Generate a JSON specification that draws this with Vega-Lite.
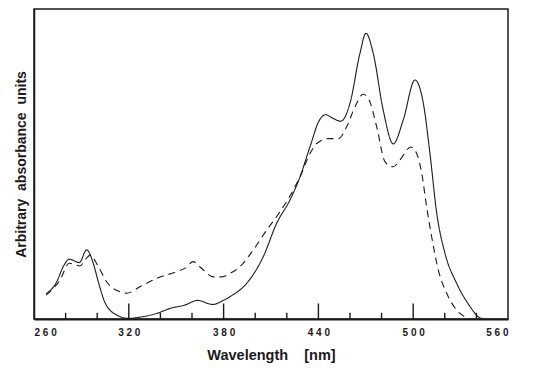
{
  "$schema": "https://vega.github.io/schema/vega-lite/v6.json",
  "width": 474,
  "height": 310,
  "autosize": {"type": "none"},
  "padding": {"left": 34, "top": 9, "right": 46, "bottom": 56},
  "background": "white",
  "config": {"view": {"stroke": "#1a1a1a", "strokeWidth": 1.5}, "font": "Liberation Sans"},
  "datasets": {
    "spectra": [
      {"wavelength": 267.6, "absorbance": 8.1, "spectrum": "solid"},
      {"wavelength": 274.4, "absorbance": 12.0, "spectrum": "solid"},
      {"wavelength": 278.5, "absorbance": 16.9, "spectrum": "solid"},
      {"wavelength": 282.3, "absorbance": 19.3, "spectrum": "solid"},
      {"wavelength": 288.7, "absorbance": 18.2, "spectrum": "solid"},
      {"wavelength": 293.3, "absorbance": 22.3, "spectrum": "solid"},
      {"wavelength": 297.5, "absorbance": 18.0, "spectrum": "solid"},
      {"wavelength": 300.7, "absorbance": 12.0, "spectrum": "solid"},
      {"wavelength": 305.0, "absorbance": 5.2, "spectrum": "solid"},
      {"wavelength": 312.3, "absorbance": 1.3, "spectrum": "solid"},
      {"wavelength": 319.7, "absorbance": 0.2, "spectrum": "solid"},
      {"wavelength": 327.0, "absorbance": 0.6, "spectrum": "solid"},
      {"wavelength": 337.7, "absorbance": 1.8, "spectrum": "solid"},
      {"wavelength": 346.0, "absorbance": 3.4, "spectrum": "solid"},
      {"wavelength": 355.5, "absorbance": 4.5, "spectrum": "solid"},
      {"wavelength": 363.5, "absorbance": 6.0, "spectrum": "solid"},
      {"wavelength": 373.0, "absorbance": 4.7, "spectrum": "solid"},
      {"wavelength": 379.8, "absorbance": 6.0, "spectrum": "solid"},
      {"wavelength": 384.0, "absorbance": 7.2, "spectrum": "solid"},
      {"wavelength": 394.6, "absorbance": 11.5, "spectrum": "solid"},
      {"wavelength": 405.1, "absorbance": 20.1, "spectrum": "solid"},
      {"wavelength": 413.6, "absorbance": 30.9, "spectrum": "solid"},
      {"wavelength": 422.0, "absorbance": 38.4, "spectrum": "solid"},
      {"wavelength": 428.4, "absorbance": 45.9, "spectrum": "solid"},
      {"wavelength": 434.7, "absorbance": 55.6, "spectrum": "solid"},
      {"wavelength": 440.5, "absorbance": 64.0, "spectrum": "solid"},
      {"wavelength": 444.5, "absorbance": 65.9, "spectrum": "solid"},
      {"wavelength": 449.0, "absorbance": 64.8, "spectrum": "solid"},
      {"wavelength": 454.2, "absorbance": 63.8, "spectrum": "solid"},
      {"wavelength": 460.0, "absorbance": 69.6, "spectrum": "solid"},
      {"wavelength": 466.3, "absorbance": 85.7, "spectrum": "solid"},
      {"wavelength": 470.1, "absorbance": 92.2, "spectrum": "solid"},
      {"wavelength": 474.7, "absorbance": 85.7, "spectrum": "solid"},
      {"wavelength": 481.0, "absorbance": 67.4, "spectrum": "solid"},
      {"wavelength": 487.4, "absorbance": 56.5, "spectrum": "solid"},
      {"wavelength": 493.7, "absorbance": 64.2, "spectrum": "solid"},
      {"wavelength": 501.1, "absorbance": 77.1, "spectrum": "solid"},
      {"wavelength": 506.4, "absorbance": 69.6, "spectrum": "solid"},
      {"wavelength": 510.6, "absorbance": 53.4, "spectrum": "solid"},
      {"wavelength": 514.9, "absorbance": 34.1, "spectrum": "solid"},
      {"wavelength": 520.1, "absorbance": 21.2, "spectrum": "solid"},
      {"wavelength": 527.5, "absorbance": 11.5, "spectrum": "solid"},
      {"wavelength": 536.0, "absorbance": 4.0, "spectrum": "solid"},
      {"wavelength": 541.2, "absorbance": 0.7, "spectrum": "solid"},
      {"wavelength": 544.0, "absorbance": 0.0, "spectrum": "solid"},
      {"wavelength": 267.6, "absorbance": 7.7, "spectrum": "dashed"},
      {"wavelength": 276.5, "absorbance": 12.6, "spectrum": "dashed"},
      {"wavelength": 282.3, "absorbance": 18.0, "spectrum": "dashed"},
      {"wavelength": 285.5, "absorbance": 17.6, "spectrum": "dashed"},
      {"wavelength": 289.1, "absorbance": 17.1, "spectrum": "dashed"},
      {"wavelength": 292.5, "absorbance": 19.2, "spectrum": "dashed"},
      {"wavelength": 295.6, "absorbance": 20.6, "spectrum": "dashed"},
      {"wavelength": 300.7, "absorbance": 16.9, "spectrum": "dashed"},
      {"wavelength": 306.0, "absorbance": 12.0, "spectrum": "dashed"},
      {"wavelength": 314.4, "absorbance": 8.8, "spectrum": "dashed"},
      {"wavelength": 318.7, "absorbance": 8.3, "spectrum": "dashed"},
      {"wavelength": 327.0, "absorbance": 10.4, "spectrum": "dashed"},
      {"wavelength": 337.7, "absorbance": 13.1, "spectrum": "dashed"},
      {"wavelength": 350.3, "absorbance": 15.3, "spectrum": "dashed"},
      {"wavelength": 356.0, "absorbance": 16.5, "spectrum": "dashed"},
      {"wavelength": 360.8, "absorbance": 18.5, "spectrum": "dashed"},
      {"wavelength": 364.0, "absorbance": 17.3, "spectrum": "dashed"},
      {"wavelength": 367.2, "absorbance": 15.8, "spectrum": "dashed"},
      {"wavelength": 373.5, "absorbance": 13.6, "spectrum": "dashed"},
      {"wavelength": 378.8, "absorbance": 13.6, "spectrum": "dashed"},
      {"wavelength": 384.0, "absorbance": 14.7, "spectrum": "dashed"},
      {"wavelength": 390.4, "absorbance": 16.9, "spectrum": "dashed"},
      {"wavelength": 398.8, "absorbance": 22.3, "spectrum": "dashed"},
      {"wavelength": 407.3, "absorbance": 28.7, "spectrum": "dashed"},
      {"wavelength": 415.7, "absorbance": 34.6, "spectrum": "dashed"},
      {"wavelength": 424.1, "absorbance": 41.6, "spectrum": "dashed"},
      {"wavelength": 428.4, "absorbance": 45.9, "spectrum": "dashed"},
      {"wavelength": 434.7, "absorbance": 53.4, "spectrum": "dashed"},
      {"wavelength": 438.9, "absorbance": 56.6, "spectrum": "dashed"},
      {"wavelength": 446.3, "absorbance": 58.2, "spectrum": "dashed"},
      {"wavelength": 452.6, "absorbance": 58.2, "spectrum": "dashed"},
      {"wavelength": 457.9, "absorbance": 62.0, "spectrum": "dashed"},
      {"wavelength": 463.2, "absorbance": 68.5, "spectrum": "dashed"},
      {"wavelength": 468.3, "absorbance": 72.5, "spectrum": "dashed"},
      {"wavelength": 471.6, "absorbance": 71.2, "spectrum": "dashed"},
      {"wavelength": 476.9, "absorbance": 62.0, "spectrum": "dashed"},
      {"wavelength": 482.2, "absorbance": 50.7, "spectrum": "dashed"},
      {"wavelength": 487.4, "absorbance": 49.1, "spectrum": "dashed"},
      {"wavelength": 491.6, "absorbance": 51.3, "spectrum": "dashed"},
      {"wavelength": 498.5, "absorbance": 55.5, "spectrum": "dashed"},
      {"wavelength": 502.2, "absorbance": 53.4, "spectrum": "dashed"},
      {"wavelength": 505.4, "absorbance": 47.0, "spectrum": "dashed"},
      {"wavelength": 508.5, "absorbance": 36.2, "spectrum": "dashed"},
      {"wavelength": 511.7, "absorbance": 26.5, "spectrum": "dashed"},
      {"wavelength": 515.9, "absorbance": 15.8, "spectrum": "dashed"},
      {"wavelength": 521.2, "absorbance": 8.3, "spectrum": "dashed"},
      {"wavelength": 527.5, "absorbance": 2.9, "spectrum": "dashed"},
      {"wavelength": 532.8, "absorbance": 0.7, "spectrum": "dashed"},
      {"wavelength": 536.0, "absorbance": 0.0, "spectrum": "dashed"}
    ],
    "ticks": [
      {"wavelength": 280, "kind": "minor"},
      {"wavelength": 300, "kind": "minor"},
      {"wavelength": 320, "kind": "major"},
      {"wavelength": 340, "kind": "minor"},
      {"wavelength": 360, "kind": "minor"},
      {"wavelength": 380, "kind": "major"},
      {"wavelength": 400, "kind": "minor"},
      {"wavelength": 420, "kind": "minor"},
      {"wavelength": 440, "kind": "major"},
      {"wavelength": 460, "kind": "minor"},
      {"wavelength": 480, "kind": "minor"},
      {"wavelength": 500, "kind": "major"},
      {"wavelength": 520, "kind": "minor"},
      {"wavelength": 540, "kind": "minor"}
    ]
  },
  "encoding": {
    "x": {
      "field": "wavelength", "type": "quantitative",
      "scale": {"domain": [260, 560], "nice": false, "zero": false},
      "axis": {
        "title": "Wavelength\u00a0\u00a0\u00a0 [nm]",
        "values": [260, 320, 380, 440, 500, 560],
        "labelExpr": "join(split(format(datum.value, 'd'), ''), ' ')",
        "labelFont": "Liberation Sans", "labelFontWeight": "bold", "labelFontSize": 10, "labelColor": "#1a1a1a",
        "labelFlush": true, "labelPadding": 8, "labelBaseline": "top",
        "ticks": false,
        "domain": true, "domainColor": "#1a1a1a", "domainWidth": 2, "grid": false,
        "titleFont": "Liberation Sans", "titleFontSize": 14.5, "titleFontWeight": "bold", "titleColor": "#1a1a1a",
        "titlePadding": 11
      }
    }
  },
  "layer": [
    {
      "data": {"name": "spectra"},
      "mark": {"type": "line", "interpolate": "monotone", "strokeWidth": 1.1, "color": "#1a1a1a"},
      "encoding": {
        "y": {
          "field": "absorbance", "type": "quantitative",
          "scale": {"domain": [0, 100], "nice": false},
          "axis": {
            "title": "Arbitrary\u00a0\u00a0absorbance\u00a0\u00a0units",
            "ticks": false, "labels": false, "domain": true, "domainWidth": 1.5, "domainColor": "#1a1a1a", "grid": false,
            "titleFont": "Liberation Sans", "titleFontSize": 14, "titleFontWeight": "bold", "titleColor": "#1a1a1a",
            "titlePadding": 6
          }
        },
        "strokeDash": {
          "field": "spectrum", "type": "nominal",
          "scale": {"domain": ["solid", "dashed"], "range": [[1, 0], [7, 5]]},
          "legend": null
        }
      }
    },
    {
      "data": {"name": "ticks"},
      "transform": [{"filter": "datum.kind == 'minor'"}],
      "mark": {"type": "rule", "strokeWidth": 1.4, "color": "#1a1a1a"},
      "encoding": {
        "y": {"datum": 0},
        "y2": {"datum": 2}
      }
    },
    {
      "data": {"name": "ticks"},
      "transform": [{"filter": "datum.kind == 'major'"}],
      "mark": {"type": "rule", "strokeWidth": 1.4, "color": "#1a1a1a"},
      "encoding": {
        "y": {"datum": 0},
        "y2": {"datum": 5}
      }
    }
  ]
}
